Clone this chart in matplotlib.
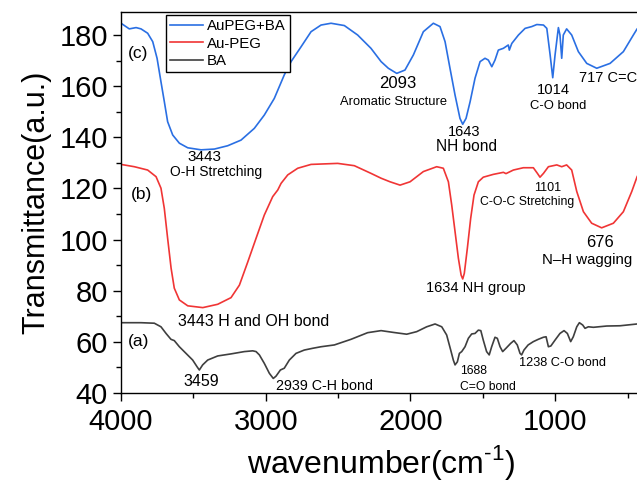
import matplotlib
matplotlib.use('Agg')
import matplotlib.pyplot as plt
from matplotlib.ticker import MultipleLocator

plt.rcParams.update({
    'font.family': 'Liberation Sans',
    'mathtext.fontset': 'custom',
    'mathtext.rm': 'Liberation Sans',
    'axes.linewidth': 1.0,
    'xtick.direction': 'out',
    'ytick.direction': 'out',
})

# ---- spectra (wavenumber, transmittance) ----
c_wn = [4000, 3943, 3896, 3862, 3816, 3781, 3751, 3724, 3701, 3678, 3643, 3597, 3539,
        3447, 3355, 3263, 3171, 3079, 3010, 2941, 2872, 2825, 2756, 2687, 2618, 2549,
        2457, 2365, 2273, 2203, 2153, 2095, 2038, 1980, 1911, 1842, 1796, 1761, 1727,
        1692, 1658, 1639, 1616, 1588, 1554, 1519, 1485, 1462, 1438, 1416, 1393, 1358,
        1324, 1317, 1300, 1254, 1208, 1162, 1127, 1081, 1058, 1035, 1017, 1001, 978,
        967, 955, 944, 921, 886, 840, 782, 713, 621, 529, 460, 434, 400]
c_tr = [184.6, 182.4, 182.9, 182.4, 180.7, 177.4, 170.9, 161.7, 154.0, 146.1, 140.9,
        137.7, 135.9, 135.1, 135.4, 136.7, 138.9, 143.5, 148.7, 155.2, 164.4, 169.6,
        175.4, 181.3, 183.9, 184.6, 183.7, 180.0, 174.8, 169.6, 167.0, 165.0, 166.3,
        172.2, 181.3, 184.6, 183.3, 177.4, 167.0, 156.5, 147.4, 145.1, 147.4, 153.9,
        163.1, 169.6, 170.9, 170.2, 167.6, 170.2, 174.1, 174.8, 176.1, 174.1, 176.7,
        180.0, 182.6, 183.3, 184.1, 183.9, 182.6, 172.2, 163.3, 172.2, 182.9, 180.0,
        170.9, 180.0, 182.4, 180.0, 173.5, 168.9, 167.0, 168.9, 173.5, 180.0, 182.4,
        184.0]

b_wn = [4000, 3908, 3816, 3758, 3724, 3701, 3678, 3654, 3632, 3597, 3539, 3435, 3332,
        3240, 3182, 3124, 3067, 3010, 2952, 2917, 2894, 2848, 2779, 2687, 2503, 2388,
        2273, 2203, 2141, 2072, 2003, 1911, 1819, 1773, 1738, 1715, 1692, 1669, 1650,
        1639, 1628, 1607, 1584, 1561, 1531, 1497, 1428, 1358, 1340, 1289, 1220, 1151,
        1123, 1105, 1081, 1047, 989, 955, 921, 886, 851, 805, 748, 679, 598, 529, 471,
        434, 400]
b_tr = [129.4, 128.5, 127.2, 124.6, 120.1, 112.2, 100.5, 88.8, 81.0, 76.4, 74.1, 73.4,
        74.7, 77.3, 82.2, 91.3, 100.5, 109.6, 116.8, 119.4, 122.0, 125.3, 127.9, 129.4,
        129.8, 128.9, 125.9, 124.0, 122.6, 121.3, 122.6, 126.6, 128.5, 127.9, 122.6,
        113.5, 103.1, 92.7, 86.1, 84.6, 86.8, 96.6, 108.3, 117.4, 122.6, 124.4, 125.5,
        126.3, 125.8, 127.2, 128.1, 128.1, 125.9, 124.4, 125.9, 128.5, 129.2, 128.5,
        129.2, 127.2, 118.8, 110.9, 106.4, 104.6, 106.4, 110.9, 118.8, 124.6, 128.0]

a_wn = [4000, 3862, 3770, 3724, 3689, 3655, 3632, 3597, 3551, 3505, 3475, 3459, 3436,
        3401, 3332, 3240, 3148, 3090, 3067, 3044, 3010, 2975, 2948, 2929, 2899, 2872,
        2837, 2791, 2734, 2675, 2618, 2526, 2411, 2296, 2203, 2118, 2026, 1957, 1888,
        1830, 1784, 1750, 1722, 1704, 1692, 1676, 1662, 1646, 1623, 1600, 1577, 1554,
        1531, 1514, 1497, 1474, 1456, 1439, 1416, 1400, 1381, 1363, 1340, 1308, 1285,
        1262, 1243, 1232, 1216, 1187, 1151, 1117, 1082, 1063, 1047, 1030, 1001, 967,
        939, 916, 893, 875, 851, 833, 810, 794, 771, 736, 644, 552, 434, 400]
a_tr = [67.5, 67.5, 67.3, 65.9, 63.3, 61.0, 60.5, 58.1, 55.5, 52.9, 50.3, 49.0, 51.0,
        52.9, 54.5, 55.3, 56.2, 56.5, 56.2, 54.9, 51.6, 47.7, 45.7, 46.6, 49.0, 49.7,
        52.9, 55.5, 56.8, 57.5, 58.1, 58.8, 61.0, 63.6, 64.4, 63.7, 63.0, 64.0, 65.9,
        67.0, 65.9, 62.7, 56.8, 52.9, 51.0, 52.2, 55.5, 56.2, 58.1, 61.4, 63.1, 63.3,
        64.6, 64.4, 60.7, 56.2, 54.9, 58.1, 61.8, 61.4, 58.1, 56.2, 57.5, 59.4, 60.5,
        58.8, 55.5, 54.9, 56.8, 58.8, 60.1, 61.0, 61.8, 62.0, 58.1, 58.4, 60.7, 63.3,
        64.4, 63.3, 60.1, 62.0, 65.9, 67.5, 66.6, 65.3, 65.9, 65.7, 66.2, 66.3, 67.0,
        67.2]

labels = ['AuPEG+BA', 'Au-PEG', 'BA']
colors = ['#2a6fe3', '#f03535', '#3f3f3f']

fig = plt.figure(figsize=(6.37, 4.82), dpi=100)
ax = fig.add_axes([0.19, 0.1846, 0.8179, 0.7905])

ax.plot(c_wn, c_tr, color=colors[0], lw=1.2, label=labels[0])
ax.plot(b_wn, b_tr, color=colors[1], lw=1.2, label=labels[1])
ax.plot(a_wn, a_tr, color=colors[2], lw=1.2, label=labels[2])

ax.set_xlim(4000, 400)
ax.set_ylim(40, 189)
ax.xaxis.set_major_locator(MultipleLocator(1000))
ax.xaxis.set_minor_locator(MultipleLocator(500))
ax.yaxis.set_major_locator(MultipleLocator(20))
ax.yaxis.set_minor_locator(MultipleLocator(10))
ax.tick_params(which='major', length=6, width=1, labelsize=21)
ax.tick_params(which='minor', length=3.5, width=1)
ax.tick_params(axis='x', pad=5)
ax.set_xlabel(r'wavenumber(cm$^{\text{-1}}$)', fontsize=23, labelpad=5)
ax.set_ylabel('Transmittance(a.u.)', fontsize=22, labelpad=6)

leg = ax.legend(loc='upper left', bbox_to_anchor=(0.086, 0.992), borderaxespad=0,
                fontsize=10.8, handlelength=2.2, handletextpad=0.3, borderpad=0.25,
                labelspacing=0.25, fancybox=False, framealpha=1, edgecolor='black')
leg.get_frame().set_linewidth(1.0)

# ---- peak annotations ----
ax.text(3950, 172.8, '(c)', fontsize=12.5, ha='left', va='center')
ax.text(3931, 117.7, '(b)', fontsize=12.5, ha='left', va='center')
ax.text(3950, 60.1, '(a)', fontsize=12.5, ha='left', va='center')

ax.text(3426, 132.4, '3443', fontsize=11, ha='center', va='center')
ax.text(3346, 126.5, 'O-H Stretching', fontsize=10, ha='center', va='center')
ax.text(2086, 161.1, '2093', fontsize=12, ha='center', va='center')
ax.text(2114, 153.7, 'Aromatic Structure', fontsize=9.3, ha='center', va='center')
ax.text(1630, 142.2, '1643', fontsize=10.5, ha='center', va='center')
ax.text(1616, 136.3, 'NH bond', fontsize=11.2, ha='center', va='center')
ax.text(1010, 158.5, '1014', fontsize=10.6, ha='center', va='center')
ax.text(978, 152.2, 'C-O bond', fontsize=9.4, ha='center', va='center')
ax.text(833, 163.0, '717 C=C', fontsize=10.5, ha='left', va='center')

ax.text(1054, 120.3, '1101', fontsize=9, ha='center', va='center')
ax.text(1192, 114.8, 'C-O-C Stretching', fontsize=8.8, ha='center', va='center')
ax.text(692, 98.9, '676', fontsize=11.8, ha='center', va='center')
ax.text(782, 92.0, 'N\u2013H wagging', fontsize=10.8, ha='center', va='center')
ax.text(1547, 80.9, '1634 NH group', fontsize=10.5, ha='center', va='center')
ax.text(3604, 67.9, '3443 H and OH bond', fontsize=11.5, ha='left', va='center')

ax.text(3449, 44.7, '3459', fontsize=11.5, ha='center', va='center')
ax.text(2929, 42.9, '2939 C-H bond', fontsize=10.3, ha='left', va='center')
ax.text(1658, 48.7, '1688', fontsize=8.7, ha='left', va='center')
ax.text(1658, 42.2, 'C=O bond', fontsize=8.7, ha='left', va='center')
ax.text(1248, 51.8, '1238 C-O bond', fontsize=9.2, ha='left', va='center')

fig.savefig('out.png', dpi=100)
